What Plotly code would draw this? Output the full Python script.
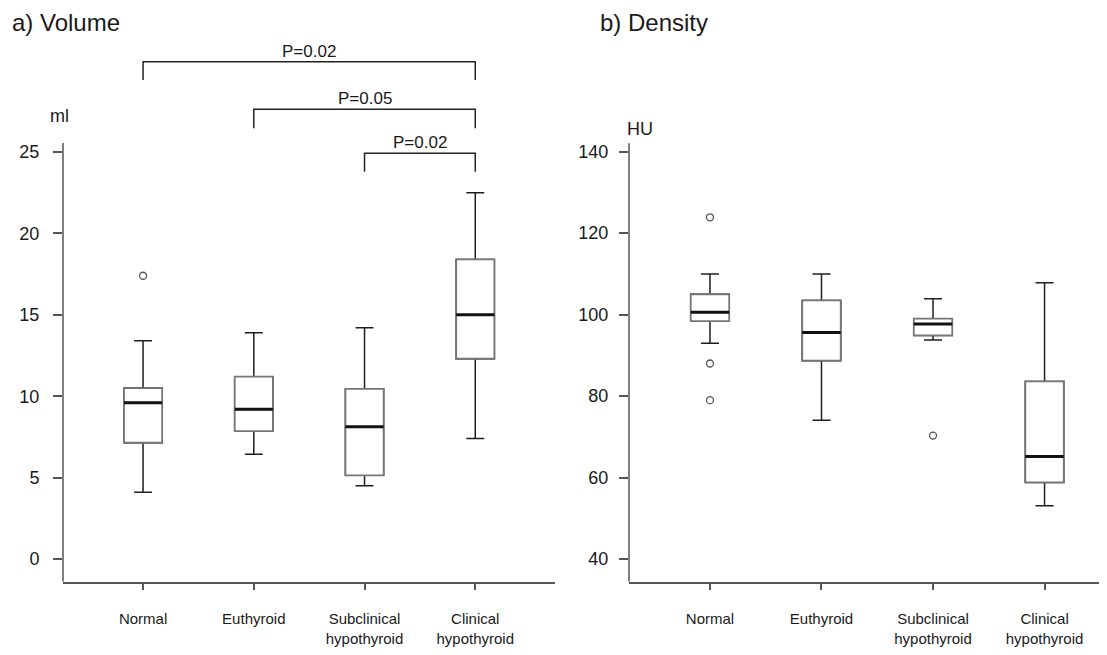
import plotly.graph_objects as go

# ---------------- data ----------------
categories = ["Normal", "Euthyroid", "Subclinical<br>hypothyroid", "Clinical<br>hypothyroid"]
cat_pos = [0, 1, 2, 3]

# a) Volume (ml)
vol_q1 = [7.14, 7.86, 5.14, 12.3]
vol_median = [9.6, 9.2, 8.12, 15.0]
vol_q3 = [10.5, 11.2, 10.45, 18.4]
vol_lower = [4.1, 6.43, 4.5, 7.4]
vol_upper = [13.4, 13.9, 14.2, 22.5]
vol_out_x = [0]
vol_out_y = [17.4]

# b) Density (HU)
den_q1 = [98.4, 88.7, 94.9, 58.8]
den_median = [100.6, 95.6, 97.7, 65.2]
den_q3 = [105.0, 103.5, 99.0, 83.6]
den_lower = [93.0, 74.1, 93.8, 53.1]
den_upper = [110.0, 110.0, 103.9, 107.8]
den_out_x = [0, 0, 0, 2]
den_out_y = [123.9, 88.0, 79.0, 70.3]

# significance brackets on volume panel: (from, to, bar level, leg end, label)
bracket_from = [0, 1, 2]
bracket_to = [3, 3, 3]
bracket_top = [30.55, 27.62, 24.92]
bracket_leg = [29.42, 26.46, 23.79]
bracket_text = ["P=0.02", "P=0.05", "P=0.02"]

vol_ticks = [0, 5, 10, 15, 20, 25]
den_ticks = [40, 60, 80, 100, 120, 140]

# ---------------- layout helpers ----------------
W, H = 1107, 655
PAGE_MARGIN = 8  # browser default body margin


def fx(px):
    return (px - PAGE_MARGIN) / W


def fy(py):
    return 1 - (py - PAGE_MARGIN) / H


FONT = "Liberation Sans, Arial, sans-serif"
TXT = "#1a1a1a"
AX = "#555555"
BOX_EDGE = "#767676"
WH = "#1f1f1f"
BOX_W = 0.345

fig = go.Figure()


def add_panel(xa, ya, q1, med, q3, lo, hi, ox, oy):
    # whiskers (dark)
    fig.add_trace(go.Box(x=cat_pos, q1=q1, median=med, q3=q3, lowerfence=lo, upperfence=hi,
                         width=BOX_W, whiskerwidth=0.47, boxpoints=False,
                         fillcolor="white", line=dict(color=WH, width=1.5),
                         xaxis=xa, yaxis=ya, hoverinfo="skip", showlegend=False))
    # grey box body on top
    fig.add_trace(go.Box(x=cat_pos, q1=q1, median=med, q3=q3, lowerfence=q1, upperfence=q3,
                         width=BOX_W, whiskerwidth=0, boxpoints=False,
                         fillcolor="white", line=dict(color=BOX_EDGE, width=1.8),
                         xaxis=xa, yaxis=ya, hoverinfo="skip", showlegend=False))
    # thick median bars
    mx, my = [], []
    for p, m in zip(cat_pos, med):
        mx += [p - BOX_W / 2, p + BOX_W / 2, None]
        my += [m, m, None]
    fig.add_trace(go.Scatter(x=mx, y=my, mode="lines", line=dict(color="#111111", width=3),
                             xaxis=xa, yaxis=ya, hoverinfo="skip", showlegend=False))
    # outliers
    fig.add_trace(go.Scatter(x=ox, y=oy, mode="markers",
                             marker=dict(symbol="circle-open", size=7, color="#555555",
                                         line=dict(width=1.3, color="#555555")),
                             xaxis=xa, yaxis=ya, hoverinfo="skip", showlegend=False))


add_panel("x", "y", vol_q1, vol_median, vol_q3, vol_lower, vol_upper, vol_out_x, vol_out_y)
add_panel("x2", "y2", den_q1, den_median, den_q3, den_lower, den_upper, den_out_x, den_out_y)

for a, b, top, leg, t in zip(bracket_from, bracket_to, bracket_top, bracket_leg, bracket_text):
    fig.add_trace(go.Scatter(x=[a, a, b, b], y=[leg, top, top, leg], mode="lines",
                             line=dict(color="#222222", width=1.5),
                             xaxis="x", yaxis="y", hoverinfo="skip", showlegend=False))
    fig.add_annotation(x=(a + b) / 2, y=top, xref="x", yref="y", text=t, showarrow=False,
                       yanchor="bottom", yshift=-1, font=dict(size=17, color=TXT, family=FONT))

# y axis lines
fig.add_shape(type="line", xref="x domain", yref="y", x0=0, x1=0, y0=-1.394, y1=25.55,
              line=dict(color=AX, width=1.5))
fig.add_shape(type="line", xref="x2 domain", yref="y2", x0=0, x1=0, y0=34.43, y1=142.06,
              line=dict(color=AX, width=1.5))

# unit labels
fig.add_annotation(xref="x domain", yref="y", x=0, y=27.2, text="ml", showarrow=False,
                   xanchor="left", xshift=-15, font=dict(size=18, color=TXT, family=FONT))
fig.add_annotation(xref="x2 domain", yref="y2", x=0, y=145.6, text="HU", showarrow=False,
                   xanchor="left", xshift=-4, font=dict(size=18, color=TXT, family=FONT))

# panel titles
fig.add_annotation(xref="paper", yref="paper", x=fx(10.5), y=1, text="a) Volume", showarrow=False,
                   xanchor="left", yanchor="top", borderpad=0,
                   font=dict(size=24, color=TXT, family=FONT))
fig.add_annotation(xref="paper", yref="paper", x=fx(598.5), y=1, text="b) Density", showarrow=False,
                   xanchor="left", yanchor="top", borderpad=0,
                   font=dict(size=24, color=TXT, family=FONT))

xcommon = dict(tickmode="array", tickvals=cat_pos, ticktext=categories, showgrid=False,
               zeroline=False, showline=True, linecolor=AX, linewidth=1.5,
               ticks="outside", ticklen=7, tickwidth=1.5, tickcolor=AX,
               tickfont=dict(size=15, color=TXT, family=FONT), ticklabelstandoff=16)
ycommon = dict(tickmode="array", showgrid=False, zeroline=False, showline=False,
               ticks="outside", ticklen=9, tickwidth=1.5, tickcolor=AX,
               tickfont=dict(size=18, color=TXT, family=FONT))

plot_top, plot_bottom = 40, 581.7

fig.update_layout(
    width=W, height=H,
    margin=dict(l=0, r=0, t=0, b=0),
    paper_bgcolor="white", plot_bgcolor="white",
    font=dict(family=FONT, color=TXT),
    xaxis=dict(domain=[fx(63), fx(555)], range=[-0.723, 3.72], anchor="y", **xcommon),
    yaxis=dict(domain=[fy(plot_bottom), fy(plot_top)], range=[-1.394, 31.88], anchor="x",
               tickvals=vol_ticks, ticklabelstandoff=10, **ycommon),
    xaxis2=dict(domain=[fx(629), fx(1107)], range=[-0.726, 3.56], anchor="y2", **xcommon),
    yaxis2=dict(domain=[fy(plot_bottom), fy(plot_top)], range=[34.43, 167.43], anchor="x2",
                tickvals=den_ticks, ticklabelstandoff=7, **ycommon),
    boxgap=0, boxgroupgap=0, boxmode="overlay",
)

fig.write_html("out.html")
